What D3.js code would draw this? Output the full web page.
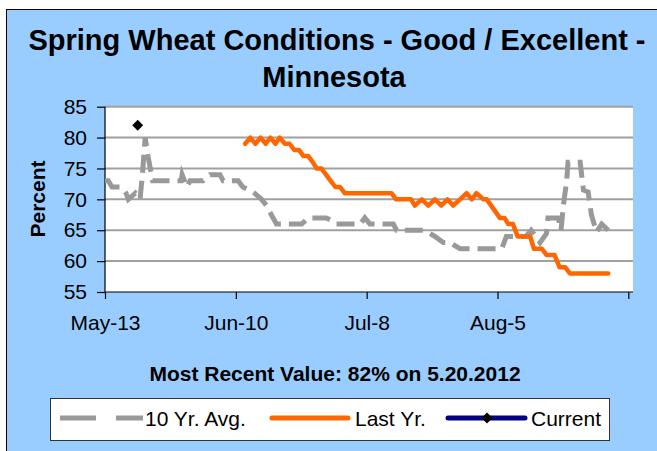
<!DOCTYPE html>
<html>
<head>
<meta charset="utf-8">
<script src="https://cdn.jsdelivr.net/npm/d3@7"></script>
<style>
  body { margin: 0; background: #fff; }
  svg { display: block; font-family: "Liberation Sans", Arial, sans-serif; }
</style>
</head>
<body>
<div class="chart"></div>
<script>
/** chart data, x is days after May-13 */
const tickDays = [0, 28, 56, 84, 112];
const tickLabels = ["May-13", "Jun-10", "Jul-8", "Aug-5", ""];
const yTicks = [55, 60, 65, 70, 75, 80, 85];

const avgDays = [0, 0.7, 1.5, 3.5, 4.5, 5, 6.5, 7.5, 8, 8.6, 9.2, 10.2, 16.3, 16.5, 17.5, 18.2, 21, 22.5, 24.6, 25.3,
  28.5, 29.5, 31, 32, 33.5, 34.6, 35.6, 36.7, 42.1, 43.5, 47.3, 48.8, 49.5, 54.6, 55.6, 56.7, 61.7, 62.4, 68.1, 69.5,
  70.6, 72.4, 73.8, 76, 84.9, 85.9, 90.1, 91.2, 93.1, 94.5, 94.8, 97, 97.6, 98.1, 98.8, 99.1, 101.7, 102, 102.4, 103.4,
  104.1, 105.2, 106.3, 107.7];
const avgValues = [73, 73, 72, 72, 71, 70, 71, 70, 74, 80, 77, 73, 73, 74, 72, 73, 73, 74, 74, 73,
  73, 72, 71.5, 71, 70, 69, 67.5, 66, 66, 67, 67, 66.5, 66, 66, 67, 66, 66, 65, 65, 64.5,
  64, 63, 63, 62, 62, 64, 64, 65, 63, 64.5, 67, 67, 65, 69, 73, 76, 76, 74, 71.5, 71.2,
  67.5, 64.7, 66, 65];

const lastDays = [30, 31.1, 32.2, 33.3, 34.4, 35.4, 36.5, 37.4, 38.5, 39.5, 40.5, 41.5, 42.5, 43.5, 44.5, 45.3, 46.3,
  47.3, 48.3, 49.3, 50.3, 51.3, 61.3, 62.3, 65.5, 66.3, 67.8, 69.2, 70.6, 72, 73.3, 74.5, 76, 77.4, 78.5, 79.5, 81,
  81.7, 84.5, 85.5, 86.3, 87.3, 88.3, 91, 91.8, 93.5, 94.5, 96.2, 97.3, 98.5, 99.5, 107.7];
const lastValues = [79, 80, 79, 80, 79, 80, 79, 80, 79, 79, 78, 78, 77, 77, 76, 75, 75,
  74, 73, 72, 72, 71, 71, 70, 70, 69, 70, 69, 70, 69, 70, 69, 70, 71, 70, 71, 70,
  70, 67, 67, 66, 66, 64, 64, 62, 62, 61, 61, 59, 59, 58, 58];

const currentDays = [7];
const currentValues = [82];

/** canvas */
let width = 657, height = 451;
let plot = { left: 105, right: 633, top: 106.7, bottom: 292 };

let svg = d3.select('.chart').append('svg')
    .attr('width', width)
    .attr('height', height);

svg.append('rect')
    .attr('x', 6.5).attr('y', 9.5)
    .attr('width', 700).attr('height', 500)
    .attr('fill', '#99ccff')
    .attr('stroke', '#000')
    .attr('stroke-width', 1);

svg.append('rect')
    .attr('x', plot.left).attr('y', plot.top)
    .attr('width', plot.right - plot.left)
    .attr('height', plot.bottom - plot.top)
    .attr('fill', '#fff');

/** scales */
let xScale = d3.scaleLinear().domain([0, 113]).range([plot.left, plot.right]);
let yScale = d3.scaleLinear().domain([55, 85]).range([plot.bottom, plot.top]);

/** grid lines */
svg.append('g')
    .selectAll('line')
    .data(yTicks.filter(d => d > 55))
    .enter()
    .append('line')
    .attr('x1', plot.left).attr('x2', plot.right)
    .attr('y1', d => yScale(d)).attr('y2', d => yScale(d))
    .attr('stroke', '#a0a0a0')
    .attr('stroke-width', 2);

/** axes */
let yAxis = d3.axisLeft(yScale).tickValues(yTicks).tickSize(8).tickPadding(10);
let xAxis = d3.axisBottom(xScale).tickValues(tickDays)
    .tickFormat((d, i) => tickLabels[i]).tickSize(7).tickPadding(16);

let gy = svg.append('g')
    .attr('transform', `translate(${plot.left},0)`)
    .call(yAxis);
let gx = svg.append('g')
    .attr('transform', `translate(0,${plot.bottom})`)
    .call(xAxis);

[gx, gy].forEach(g => {
    g.select('.domain').attr('stroke', '#000').attr('stroke-width', 1.2);
    g.selectAll('.tick line').attr('stroke', '#000').attr('stroke-width', 1.2);
    g.selectAll('.tick text')
        .attr('fill', '#000')
        .style('font-size', '21px')
        .style('font-family', '"Liberation Sans", Arial, sans-serif');
});
gx.select('.domain').attr('d', `M${plot.left},0H${plot.right}`);
gy.select('.domain').attr('d', `M0,${plot.bottom}V${plot.top}`);

/** series */
let lineGen = d3.line()
    .x(d => xScale(d[0]))
    .y(d => yScale(d[1]));

svg.append('path')
    .datum(d3.zip(avgDays, avgValues))
    .attr('d', lineGen)
    .attr('fill', 'none')
    .attr('stroke', '#999999')
    .attr('stroke-width', 5)
    .attr('stroke-dasharray', '18,8');

svg.append('path')
    .datum(d3.zip(lastDays, lastValues))
    .attr('d', lineGen)
    .attr('fill', 'none')
    .attr('stroke', '#ff6600')
    .attr('stroke-width', 4.5)
    .attr('stroke-linejoin', 'round')
    .attr('stroke-linecap', 'round');

svg.append('path')
    .datum(d3.zip(currentDays, currentValues))
    .attr('d', lineGen)
    .attr('fill', 'none')
    .attr('stroke', '#000080')
    .attr('stroke-width', 4.5);

svg.selectAll('.marker')
    .data(d3.zip(currentDays, currentValues))
    .enter()
    .append('path')
    .attr('class', 'marker')
    .attr('d', d3.symbol(d3.symbolDiamond2, 75))
    .attr('transform', d => `translate(${xScale(d[0])},${yScale(d[1])})`)
    .attr('fill', '#000');

/** titles */
svg.append('text')
    .attr('x', 337).attr('y', 50)
    .attr('text-anchor', 'middle')
    .style('font-size', '29px').style('font-weight', 'bold')
    .text('Spring Wheat Conditions - Good / Excellent -');
svg.append('text')
    .attr('x', 334).attr('y', 87)
    .attr('text-anchor', 'middle')
    .style('font-size', '29px').style('font-weight', 'bold')
    .text('Minnesota');

svg.append('text')
    .attr('transform', 'translate(45,199) rotate(-90)')
    .attr('text-anchor', 'middle')
    .style('font-size', '21px').style('font-weight', 'bold')
    .text('Percent');

svg.append('text')
    .attr('x', 335).attr('y', 381)
    .attr('text-anchor', 'middle')
    .style('font-size', '21px').style('font-weight', 'bold')
    .text('Most Recent Value: 82% on 5.20.2012');

/** legend */
let legend = svg.append('g');
legend.append('rect')
    .attr('x', 50.5).attr('y', 398.5)
    .attr('width', 559).attr('height', 42)
    .attr('fill', '#fff')
    .attr('stroke', '#333')
    .attr('stroke-width', 1);

let ly = 418;
legend.append('line')
    .attr('x1', 60).attr('x2', 143).attr('y1', ly).attr('y2', ly)
    .attr('stroke', '#999999').attr('stroke-width', 5)
    .attr('stroke-dasharray', '36,20');
legend.append('line')
    .attr('x1', 272).attr('x2', 348).attr('y1', ly).attr('y2', ly)
    .attr('stroke', '#ff6600').attr('stroke-width', 5)
    .attr('stroke-linecap', 'round');
legend.append('line')
    .attr('x1', 448).attr('x2', 525).attr('y1', ly).attr('y2', ly)
    .attr('stroke', '#000080').attr('stroke-width', 5)
    .attr('stroke-linecap', 'round');
legend.append('path')
    .attr('d', d3.symbol(d3.symbolDiamond2, 75))
    .attr('transform', `translate(487,${ly})`)
    .attr('fill', '#000');

[['10 Yr. Avg.', 145], ['Last Yr.', 355], ['Current', 531]].forEach(t => {
    legend.append('text')
        .attr('x', t[1]).attr('y', 426)
        .style('font-size', '21px')
        .text(t[0]);
});
</script>
</body>
</html>
